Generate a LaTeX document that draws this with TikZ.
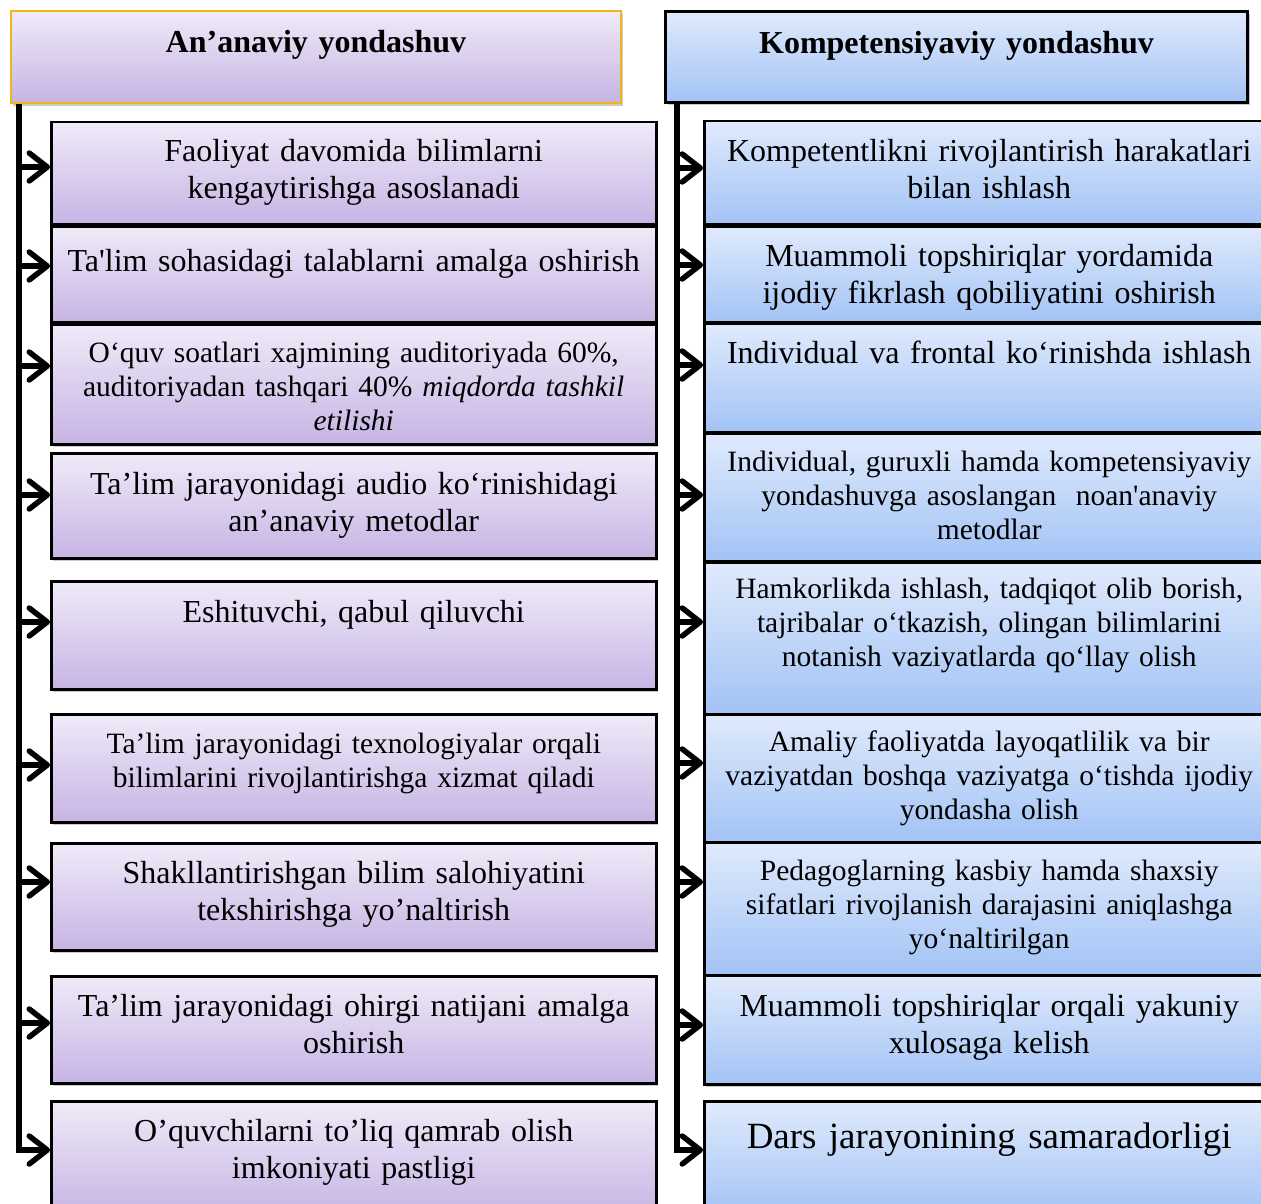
\documentclass[tikz,border=0pt]{standalone}
\usepackage{fontspec}
\setmainfont{Liberation Serif}
\usetikzlibrary{arrows.meta,shadows}
\definecolor{lilactop}{RGB}{240,234,248}
\definecolor{lilacbot}{RGB}{198,180,228}
\definecolor{skytop}{RGB}{224,234,252}
\definecolor{skybot}{RGB}{162,195,245}
\definecolor{hdrgold}{RGB}{242,182,20}

\begin{document}
\begin{tikzpicture}[x=1pt,y=-1pt,
		cell/.style={draw=black,line width=2.5pt,anchor=north west,inner xsep=4pt,inner ysep=0pt,align=center,
			drop shadow={shadow xshift=2pt,shadow yshift=-3pt,fill=black!40}},
		lbox/.style={cell,text width=597pt,top color=lilactop,bottom color=lilacbot},
		rbox/.style={cell,text width=562pt,top color=skytop,bottom color=skybot},
		bigtxt/.style={font=\fontsize{32}{37.5}\selectfont},
		smltxt/.style={font=\fontsize{29.5}{34}\selectfont},
		arr/.style={line width=5.5pt,-{Straight Barb[length=18pt,width=28pt,round]}}]
	\useasboundingbox (0,0) rectangle (1261,1204);
	\clip (0,0) rectangle (1261,1204);
	\fill[white] (0,0) rectangle (1261,1204);

	% headers
	\node[lbox,text width=602pt,line width=2pt,draw=hdrgold,font=\fontsize{32}{37.5}\selectfont\bfseries,
		text height=42pt,text depth=50pt] (hl) at (10,10) {An’anaviy yondashuv};
	\node[rbox,text width=574pt,line width=3pt,font=\fontsize{32}{37.5}\selectfont\bfseries,
		text height=42pt,text depth=49pt] (hr) at (664,10) {Kompetensiyaviy yondashuv};

	% left column
	\node[lbox,bigtxt,text height=39pt,text depth=63pt] (l1) at (50,121) {Faoliyat davomida bilimlarni\\ kengaytirishga asoslanadi};
	\node[lbox,bigtxt,text height=45pt,text depth=51pt] (l2) at (50,225) {Ta\textquotesingle lim sohasidagi talablarni amalga oshirish};
	\node[lbox,smltxt,text height=38pt,text depth=82pt] (l3) at (50,323) {O‘quv soatlari xajmining auditoriyada 60\%,\\ auditoriyadan tashqari 40\% \textit{miqdorda tashkil}\\ \textit{etilishi}};
	\node[lbox,bigtxt,text height=41pt,text depth=64pt] (l4) at (50,452) {Ta’lim jarayonidagi audio ko‘rinishidagi\\ an’anaviy metodlar};
	\node[lbox,bigtxt,text height=41pt,text depth=67pt] (l5) at (50,580) {Eshituvchi, qabul qiluvchi};
	\node[lbox,smltxt,text height=39pt,text depth=69pt] (l6) at (50,713) {Ta’lim jarayonidagi texnologiyalar orqali\\ bilimlarini rivojlantirishga xizmat qiladi};
	\node[lbox,bigtxt,text height=40pt,text depth=67pt] (l7) at (50,842) {Shakllantirishgan bilim salohiyatini\\ tekshirishga yo’naltirish};
	\node[lbox,bigtxt,text height=40pt,text depth=67pt] (l8) at (50,975) {Ta’lim jarayonidagi ohirgi natijani amalga\\ oshirish};
	\node[lbox,bigtxt,text height=40pt,text depth=75pt] (l9) at (50,1100) {O’quvchilarni to’liq qamrab olish\\ imkoniyati pastligi};

	% right column
	\node[rbox,bigtxt,text height=40pt,text depth=63pt] (r1) at (703,120) {Kompetentlikni rivojlantirish harakatlari\\ bilan ishlash};
	\node[rbox,bigtxt,text height=40pt,text depth=56pt] (r2) at (703,225) {Muammoli topshiriqlar yordamida\\ ijodiy fikrlash qobiliyatini oshirish};
	\node[rbox,bigtxt,text height=40pt,text depth=69pt] (r3) at (703,322) {Individual va frontal ko‘rinishda ishlash};
	\node[rbox,smltxt,text height=38pt,text depth=90pt] (r4) at (703,432) {Individual, guruxli hamda kompetensiyaviy\\ yondashuvga asoslangan\ \ noan\textquotesingle anaviy\\ metodlar};
	\node[rbox,smltxt,text height=36pt,text depth=116pt] (r5) at (703,561) {Hamkorlikda ishlash, tadqiqot olib borish,\\ tajribalar o‘tkazish, olingan bilimlarini\\ notanish vaziyatlarda qo‘llay olish};
	\node[rbox,smltxt,text height=37pt,text depth=91pt] (r6) at (703,713) {Amaliy faoliyatda layoqatlilik va bir\\ vaziyatdan boshqa vaziyatga o‘tishda ijodiy\\ yondasha olish};
	\node[rbox,smltxt,text height=38pt,text depth=95pt] (r7) at (703,841) {Pedagoglarning kasbiy hamda shaxsiy\\ sifatlari rivojlanish darajasini aniqlashga\\ yo‘naltirilgan};
	\node[rbox,bigtxt,text height=41pt,text depth=68pt] (r8) at (703,974) {Muammoli topshiriqlar orqali yakuniy\\ xulosaga kelish};
	\node[rbox,font=\fontsize{37}{43}\selectfont,text height=47pt,text depth=68pt] (r9) at (703,1100) {Dars jarayonining samaradorligi};

	% spines and arrows
	\coordinate (lsp) at (19,0);
	\coordinate (rsp) at (677,0);
	\draw[arr] (hl.south -| lsp) |- (l9.west |- 0,1150);
	\draw[arr] (hr.south -| rsp) |- (r9.west |- 0,1150);
	\foreach \nm/\yy in {l1/167,l2/266,l3/366,l4/495,l5/622,l6/765,l7/882,l8/1023}
		\draw[arr] (lsp |- 0,\yy) -- (\nm.west |- 0,\yy);
	\foreach \nm/\yy in {r1/168,r2/265,r3/365,r4/495,r5/622,r6/763,r7/882,r8/1025}
		\draw[arr] (rsp |- 0,\yy) -- (\nm.west |- 0,\yy);
\end{tikzpicture}
\end{document}
